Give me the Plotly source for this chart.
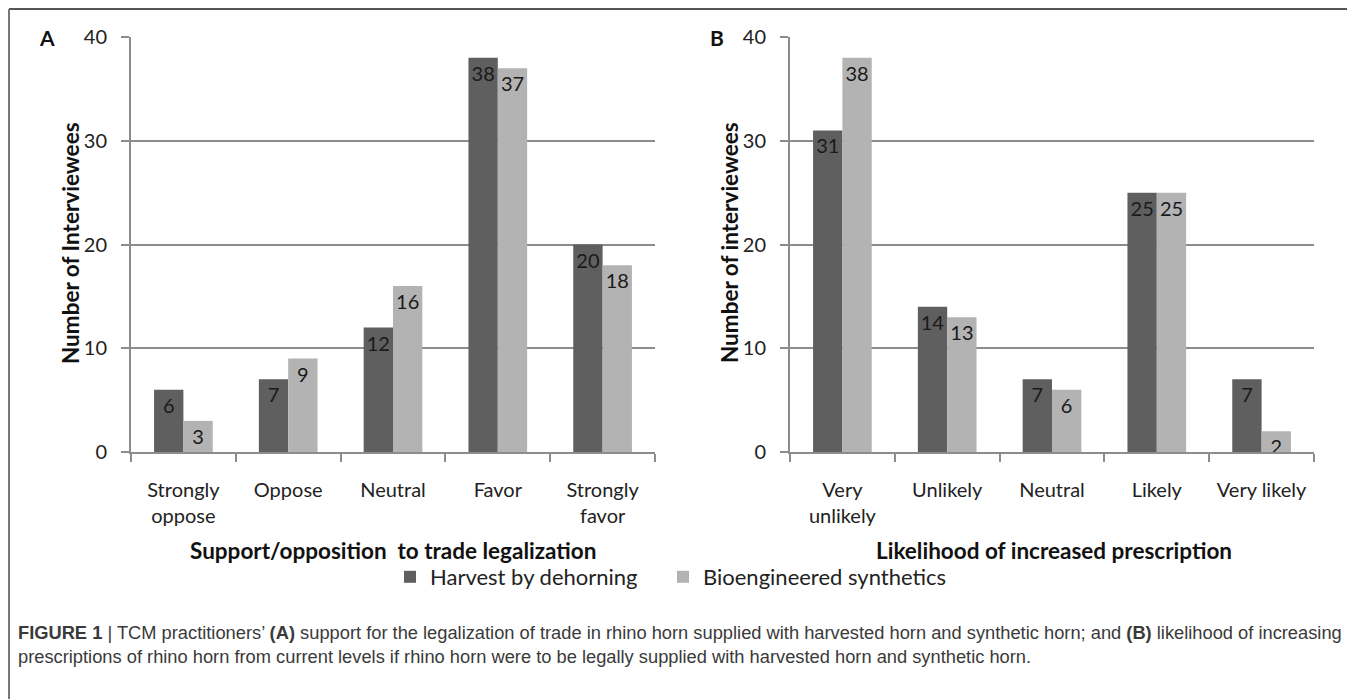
import plotly.graph_objects as go

W, H = 1355, 699
OFF = 8  # page body margin offset of the rendered figure

# ---- data ----
cats_a = ["Strongly oppose", "Oppose", "Neutral", "Favor", "Strongly favor"]
ticks_a = ["Strongly<br>oppose", "Oppose", "Neutral", "Favor", "Strongly<br>favor"]
harvest_a = [6, 7, 12, 38, 20]
synth_a = [3, 9, 16, 37, 18]

cats_b = ["Very unlikely", "Unlikely", "Neutral", "Likely", "Very likely"]
ticks_b = ["Very<br>unlikely", "Unlikely", "Neutral", "Likely", "Very likely"]
harvest_b = [31, 14, 7, 25, 7]
synth_b = [38, 13, 6, 25, 2]

series_names = ["Harvest by dehorning", "Bioengineered synthetics"]
y_ticks = [0, 10, 20, 30, 40]

DARK = "#5f5f5f"
LIGHT = "#b3b3b3"
GRID = "#8c8c8c"
FONT = "Lato"

def px_x(p):
    return (p - OFF) / W

def px_y(p):
    return 1 - (p - OFF) / H

fig = go.Figure()

label_font = dict(family=FONT, size=20, color="#1a1a1a")

for cats, hv, sy, xa, ya, show in [
    (cats_a, harvest_a, synth_a, "x", "y", True),
    (cats_b, harvest_b, synth_b, "x2", "y2", False),
]:
    fig.add_trace(go.Bar(x=cats, y=hv, name=series_names[0], marker_color=DARK,
                         marker_line_width=0, text=hv, textposition="inside",
                         insidetextanchor="end", textangle=0, textfont=label_font,
                         xaxis=xa, yaxis=ya, showlegend=show, legend="legend"))
    fig.add_trace(go.Bar(x=cats, y=sy, name=series_names[1], marker_color=LIGHT,
                         marker_line_width=0, text=sy, textposition="inside",
                         insidetextanchor="end", textangle=0, textfont=label_font,
                         xaxis=xa, yaxis=ya, showlegend=show, legend="legend2"))

ydom = [px_y(452), px_y(37)]
common_x = dict(type="category", showline=True, linecolor=GRID, linewidth=2,
                ticks="outside", ticklen=8, tickcolor=GRID, tickwidth=2,
                tickson="boundaries", showgrid=False, zeroline=False,
                tickfont=dict(family=FONT, size=20, color="#222"),
                ticklabelstandoff=19, fixedrange=True, automargin=False)
common_y = dict(range=[0, 40], tickvals=y_ticks, showline=True, linecolor=GRID,
                linewidth=2, ticks="outside", ticklen=8, tickcolor=GRID,
                tickwidth=2, showgrid=True, gridcolor=GRID, gridwidth=2,
                zeroline=False, tickfont=dict(family=FONT, size=20, color="#222"),
                ticklabelstandoff=10, fixedrange=True, automargin=False)

leg_common = dict(orientation="h", xanchor="left", y=px_y(577), yanchor="middle",
                  font=dict(family=FONT, size=22, color="#222"), itemwidth=30,
                  bgcolor="rgba(0,0,0,0)")

fig.update_layout(
    width=W, height=H, autosize=False,
    margin=dict(l=0, r=0, t=0, b=0, pad=0, autoexpand=False),
    paper_bgcolor="white", plot_bgcolor="white",
    barmode="group", bargap=0.44, bargroupgap=0,
    uniformtext=dict(minsize=20, mode="show"),
    xaxis=dict(domain=[px_x(131), px_x(655)], anchor="y",
               categoryorder="array", categoryarray=cats_a,
               tickvals=cats_a, ticktext=ticks_a, **common_x),
    yaxis=dict(domain=ydom, anchor="x", **common_y),
    xaxis2=dict(domain=[px_x(790), px_x(1314)], anchor="y2",
                categoryorder="array", categoryarray=cats_b,
                tickvals=cats_b, ticktext=ticks_b, **common_x),
    yaxis2=dict(domain=ydom, anchor="x2", **common_y),
    legend=dict(x=px_x(390), **leg_common),
    legend2=dict(x=px_x(663), **leg_common),
    showlegend=True,
)

annos = [
    dict(text="<b>A</b>", x=px_x(47), y=px_y(37), size=21),
    dict(text="<b>B</b>", x=px_x(717), y=px_y(37), size=21),
    dict(text="<b>Support/opposition  to trade legalization</b>", x=px_x(393), y=px_y(550)),
    dict(text="<b>Likelihood of increased prescription</b>", x=px_x(1054), y=px_y(550)),
    dict(text="<b>Number of Interviewees</b>", x=px_x(70), y=px_y(243), angle=-90),
    dict(text="<b>Number of interviewees</b>", x=px_x(729), y=px_y(243), angle=-90),
]
for a in annos:
    fig.add_annotation(text=a["text"], x=a["x"], y=a["y"], xref="paper", yref="paper",
                       xanchor="center", yanchor="middle", showarrow=False,
                       textangle=a.get("angle", 0),
                       font=dict(family=FONT, size=a.get("size", 22.5), color="#111"))

cap_font = dict(family="Liberation Sans Narrow, Liberation Sans, Arial", size=18.3, color="#3a3a3a")
cap1 = ("<b>FIGURE 1</b> | TCM practitioners’ <b>(A)</b> support for the legalization of trade in "
        "rhino horn supplied with harvested horn and synthetic horn; and <b>(B)</b> likelihood of increasing")
cap2 = ("prescriptions of rhino horn from current levels if rhino horn were to be legally supplied "
        "with harvested horn and synthetic horn.")
fig.add_annotation(text=cap1, x=px_x(16), y=px_y(632), xref="paper", yref="paper",
                   xanchor="left", yanchor="middle", showarrow=False, font=cap_font)
fig.add_annotation(text=cap2, x=px_x(16), y=px_y(656), xref="paper", yref="paper",
                   xanchor="left", yanchor="middle", showarrow=False, font=cap_font)

# outer frame (top and left edges)
fig.add_shape(type="line", xref="paper", yref="paper", x0=px_x(9), x1=1, y0=px_y(9), y1=px_y(9),
              line=dict(color="#555", width=2))
fig.add_shape(type="line", xref="paper", yref="paper", x0=px_x(9), x1=px_x(9), y0=px_y(9), y1=0,
              line=dict(color="#777", width=2))

fig.write_html("out.html")
